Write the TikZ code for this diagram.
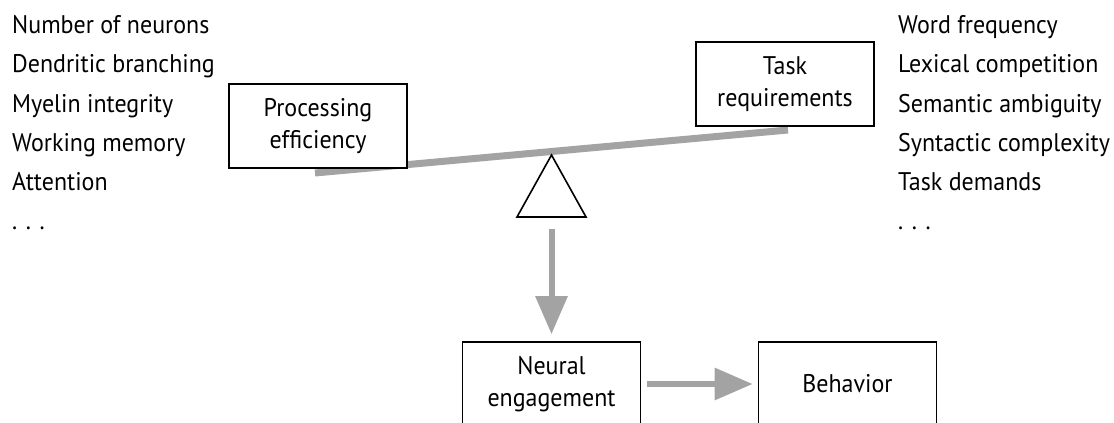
\documentclass[tikz,border=0pt]{standalone}
\usepackage{fontspec}
\setmainfont{PT Sans}[FakeStretch=0.94]
\usetikzlibrary{arrows.meta}
\definecolor{beamgray}{HTML}{A3A3A3}
\tikzset{
  x=1pt, y=-1pt,
  labeltext/.style={anchor=base west, inner sep=0pt, font=\fontsize{25.5}{30}\selectfont},
  box/.style={draw=black, line width=1.6pt, fill=white, minimum width=178pt, minimum height=84pt,
              inner sep=0pt, align=center, font=\fontsize{25.5}{32}\selectfont},
  grayarrow/.style={draw=beamgray, line width=6pt, -{Triangle[length=38pt,width=31pt]}},
  beam/.style={draw=beamgray, line width=7pt},
  fulcrumstyle/.style={draw=black, line width=1.6pt, fill=white, line join=miter}
}
\begin{document}
\begin{tikzpicture}
\useasboundingbox (0,0) rectangle (1114,423);
\clip (0,0) rectangle (1114,423);
% left list
\node[labeltext] (l1) at (12,33) {Number of neurons};
\node[labeltext] (l2) at (12,72) {Dendritic branching};
\node[labeltext] (l3) at (12,112) {Myelin integrity};
\node[labeltext] (l4) at (12,151) {Working memory};
\node[labeltext] (l5) at (12,190) {Attention};
\node[labeltext] (l6) at (12,229) {. . .};
% right list
\node[labeltext] (r1) at (898,33) {Word frequency};
\node[labeltext] (r2) at (898,72) {Lexical competition};
\node[labeltext] (r3) at (898,112) {Semantic ambiguity};
\node[labeltext] (r4) at (898,151) {Syntactic complexity};
\node[labeltext] (r5) at (898,190) {Task demands};
\node[labeltext] (r6) at (898,229) {. . .};
% beam
\coordinate (beamL) at (315,173);
\coordinate (beamR) at (788,130);
\draw[beam] (beamL) -- (beamR);
% fulcrum
\coordinate (apex) at (551.5,155);
\coordinate (baseL) at (517,217);
\coordinate (baseR) at (586,217);
\coordinate (fulcrum) at (551.5,217);
\draw[fulcrumstyle] (apex) -- (baseL) -- (baseR) -- cycle;
% boxes
\node[box] (proc) at (318,126) {Processing\\efficiency};
\node[box] (task) at (785,84) {Task\\requirements};
\node[box] (neural) at (551.5,384) {Neural\\engagement};
\node[box] (behav) at (847.5,384) {Behavior};
% arrows
\draw[grayarrow, shorten <=12pt, shorten >=7pt] (fulcrum) -- (neural.north);
\draw[grayarrow, shorten <=6pt, shorten >=5pt] (neural.east) -- (behav.west);
\end{tikzpicture}
\end{document}
